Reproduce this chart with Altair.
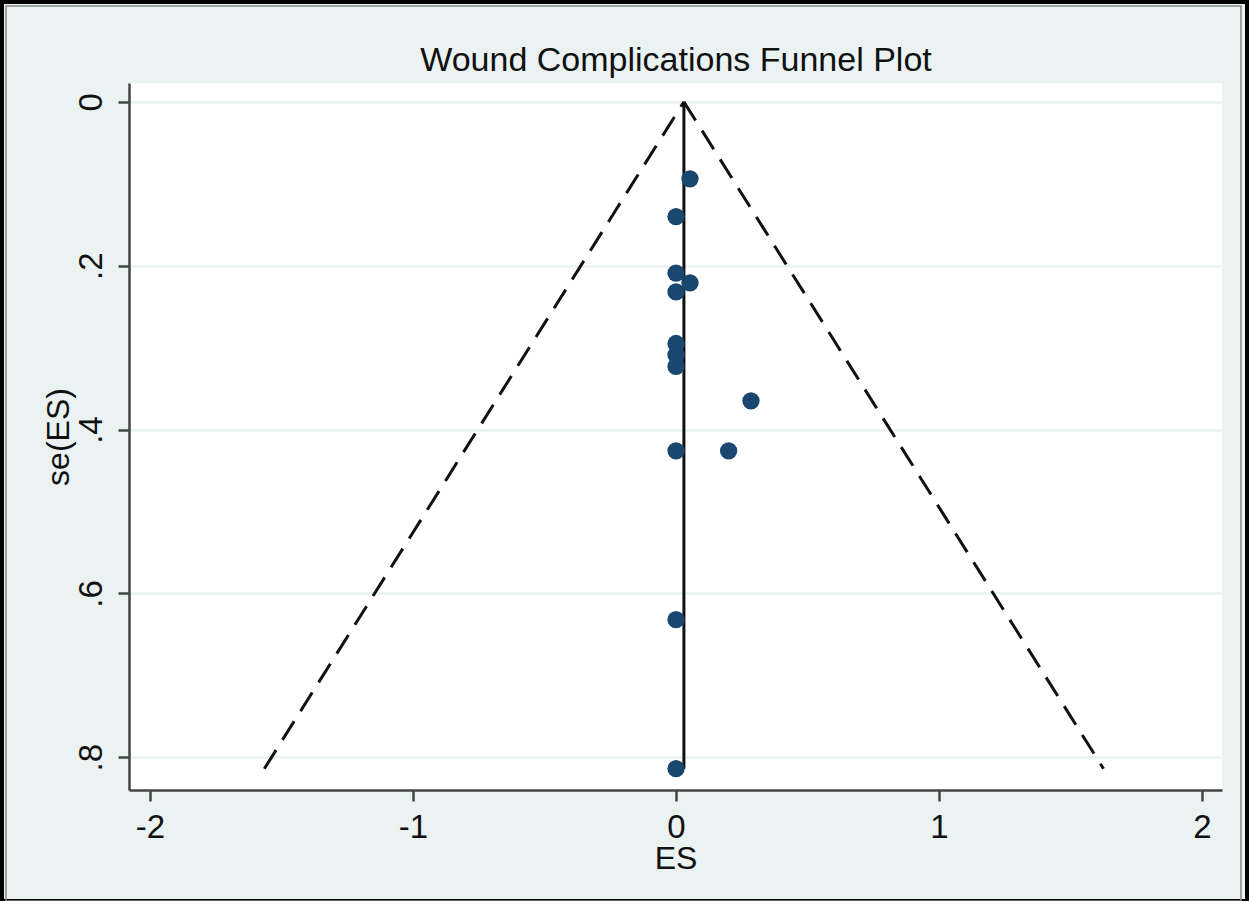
import altair as alt
import pandas as pd

# Study effect sizes and their standard errors
es = [0.053, 0.0, 0.0, 0.053, 0.0, 0.0, 0.0, 0.0, 0.285, 0.0, 0.2, 0.0, 0.0]
se = [0.094, 0.140, 0.209, 0.221, 0.232, 0.295, 0.309, 0.323, 0.365, 0.426, 0.426, 0.632, 0.814]

# Pooled estimate and the largest standard error (funnel depth)
pooled = 0.03
se_max = 0.814

x_ticks = [-2, -1, 0, 1, 2]
y_ticks = [0, 0.2, 0.4, 0.6, 0.8]

title_text = ["Wound Complications Funnel Plot"]

BG = "#EAF2F2"
POINT = "#1A476F"
FONT = "Liberation Sans"

points_df = pd.DataFrame({"ES": es, "se": se})

# 95% pseudo-confidence limits drawn as two straight lines from the apex
funnel_df = pd.DataFrame({
    "side": ["left", "left", "right", "right"],
    "ES": [pooled, pooled - 1.96 * se_max, pooled, pooled + 1.96 * se_max],
    "se": [0, se_max, 0, se_max],
})
pooled_df = pd.DataFrame({"ES": [pooled], "se0": [0.0], "se1": [se_max]})

x_scale = alt.Scale(domain=[-2.08, 2.076], nice=False, zero=False)
y_scale = alt.Scale(domain=[-0.023, 0.84], nice=False, zero=False, reverse=True)

x_axis = alt.Axis(
    values=x_ticks, grid=False, title="ES",
    labelExpr="toString(datum.value)",
    labelFontSize=33, titleFontSize=32, labelColor="#111", titleColor="#111",
    labelFont=FONT, titleFont=FONT,
    domainColor="#444", domainWidth=2.5, tickColor="#444", tickWidth=2.5, tickSize=11,
    labelPadding=10, titlePadding=-1, titleFontWeight="normal",
)
y_axis = alt.Axis(
    values=y_ticks, grid=True, gridColor=BG, gridWidth=2.5, title="se(ES)",
    labelExpr="datum.value == 0 ? '0' : replace(format(datum.value, '.1f'), '0.', '.')",
    labelAngle=-90, labelAlign="center", labelBaseline="bottom",
    labelFontSize=33, titleFontSize=32, labelColor="#111", titleColor="#111",
    labelFont=FONT, titleFont=FONT,
    domainColor="#444", domainWidth=2.5, tickColor="#444", tickWidth=2.5, tickSize=11,
    labelPadding=10, titlePadding=0, titleFontWeight="normal",
)

funnel = alt.Chart(funnel_df).mark_line(
    color="#111", strokeWidth=3, strokeDash=[22, 12]
).encode(
    x=alt.X("ES:Q", scale=x_scale, axis=x_axis),
    y=alt.Y("se:Q", scale=y_scale, axis=y_axis),
    detail="side:N",
)

pooled_line = alt.Chart(pooled_df).mark_rule(color="#111", strokeWidth=3).encode(
    x=alt.X("ES:Q", scale=x_scale),
    y=alt.Y("se0:Q", scale=y_scale),
    y2="se1:Q",
)

dots = alt.Chart(points_df).mark_circle(size=300, color=POINT, opacity=1).encode(
    x=alt.X("ES:Q", scale=x_scale),
    y=alt.Y("se:Q", scale=y_scale),
)

# Graph title, centred over the plot region
title = alt.Chart(pd.DataFrame({"t": title_text})).mark_text(
    font=FONT, fontSize=34, color="#111", align="center", baseline="alphabetic"
).encode(
    text="t:N", x=alt.value(547), y=alt.value(-12),
)

# Frame around the whole graph
frame_df = pd.DataFrame({"k": [0]})
frame_outer = alt.Chart(frame_df).mark_rect(
    stroke="#000", strokeWidth=4, fillOpacity=0
).encode(
    x=alt.value(-127), x2=alt.value(1118), y=alt.value(-81), y2=alt.value(818),
)
frame_inner = alt.Chart(frame_df).mark_rect(
    stroke="#888", strokeWidth=1.5, fillOpacity=0
).encode(
    x=alt.value(-123), x2=alt.value(1112), y=alt.value(-77), y2=alt.value(818),
)

chart = alt.layer(
    pooled_line, funnel, dots, title, frame_outer, frame_inner
).properties(
    width=1093,
    height=707,
    autosize=alt.AutoSizeParams(type="none"),
    padding={"left": 129, "top": 83, "right": 27, "bottom": 111},
    background=BG,
).configure_view(
    fill="white", stroke=None
)

chart.save("out.html", embed_options={"renderer": "svg", "actions": False})
